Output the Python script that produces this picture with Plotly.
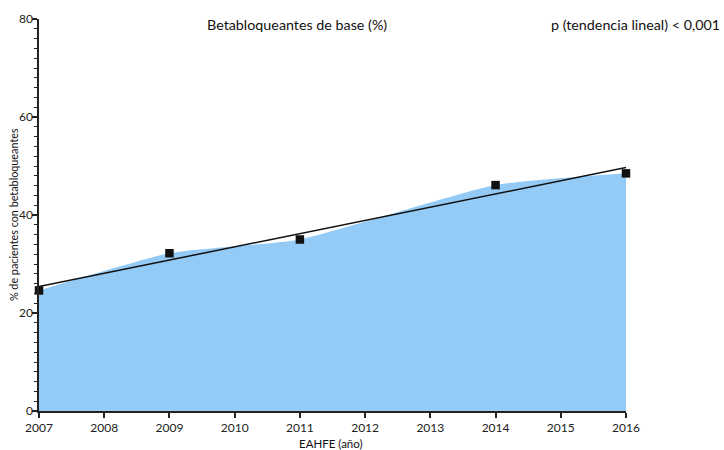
import numpy as np
import plotly.graph_objects as go

years = [2007, 2009, 2011, 2014, 2016]
pct = [24.6, 32.2, 35.0, 46.1, 48.5]
x_ticks = list(range(2007, 2017))
y_ticks = [0, 20, 40, 60, 80]

title_txt = "Betabloqueantes de base (%)"
p_txt = "p (tendencia lineal) < 0,001"
x_title = "EAHFE (año)"
y_title = "% de pacientes con betabloqueantes"

slope, intercept = np.polyfit(years, pct, 1)
trend_x = [x_ticks[0], x_ticks[-1]]
trend_y = [slope * v + intercept for v in trend_x]

FONT = "Lato, Open Sans, sans-serif"

fig = go.Figure()
fig.add_trace(go.Scatter(
    x=years, y=pct, mode="lines", fill="tozeroy",
    line=dict(color="#93CAF6", width=0, shape="spline", smoothing=0.5),
    fillcolor="#93CAF6", hoverinfo="skip", showlegend=False))
fig.add_trace(go.Scatter(
    x=trend_x, y=trend_y, mode="lines",
    line=dict(color="#111111", width=1.5), showlegend=False))
fig.add_trace(go.Scatter(
    x=years, y=pct, mode="markers",
    marker=dict(symbol="square", size=8.5, color="#111111"),
    showlegend=False, cliponaxis=False))

axis_common = dict(showline=True, linecolor="#222222", linewidth=1.5,
                   ticks="outside", tickcolor="#222222", tickwidth=1.5,
                   showgrid=False, zeroline=False,
                   tickfont=dict(family=FONT, size=12, color="#222222"))

fig.update_xaxes(range=[2007, 2016], tickvals=x_ticks, ticklen=5, **axis_common)
fig.update_yaxes(range=[0, 80], tickvals=y_ticks, ticklen=5, ticklabelstandoff=-3,
                 minor=dict(dtick=2, ticklen=3, tickcolor="#222222", tickwidth=1, ticks="outside"),
                 **axis_common)

ann_font = dict(family=FONT, size=14.3, color="#111111")
fig.update_layout(
    width=724, height=450,
    margin=dict(l=39, r=98, t=19, b=39),
    plot_bgcolor="white", paper_bgcolor="white",
    annotations=[
        dict(text=title_txt, x=0.4395, y=0.987, xref="paper", yref="paper",
             xanchor="center", yanchor="middle", showarrow=False, font=ann_font),
        dict(text=p_txt, x=1.1635, y=0.987, xref="paper", yref="paper",
             xanchor="right", yanchor="middle", showarrow=False, font=ann_font),
        dict(text=x_title, x=0.497, y=-0.084, xref="paper", yref="paper",
             xanchor="center", yanchor="middle", showarrow=False,
             font=dict(family=FONT, size=11.5, color="#111111")),
        dict(text=y_title, x=-0.0442, y=0.5, xref="paper", yref="paper",
             xanchor="center", yanchor="middle", showarrow=False, textangle=-90,
             font=dict(family=FONT, size=10.8, color="#111111")),
    ],
)

fig.write_html("out.html")
